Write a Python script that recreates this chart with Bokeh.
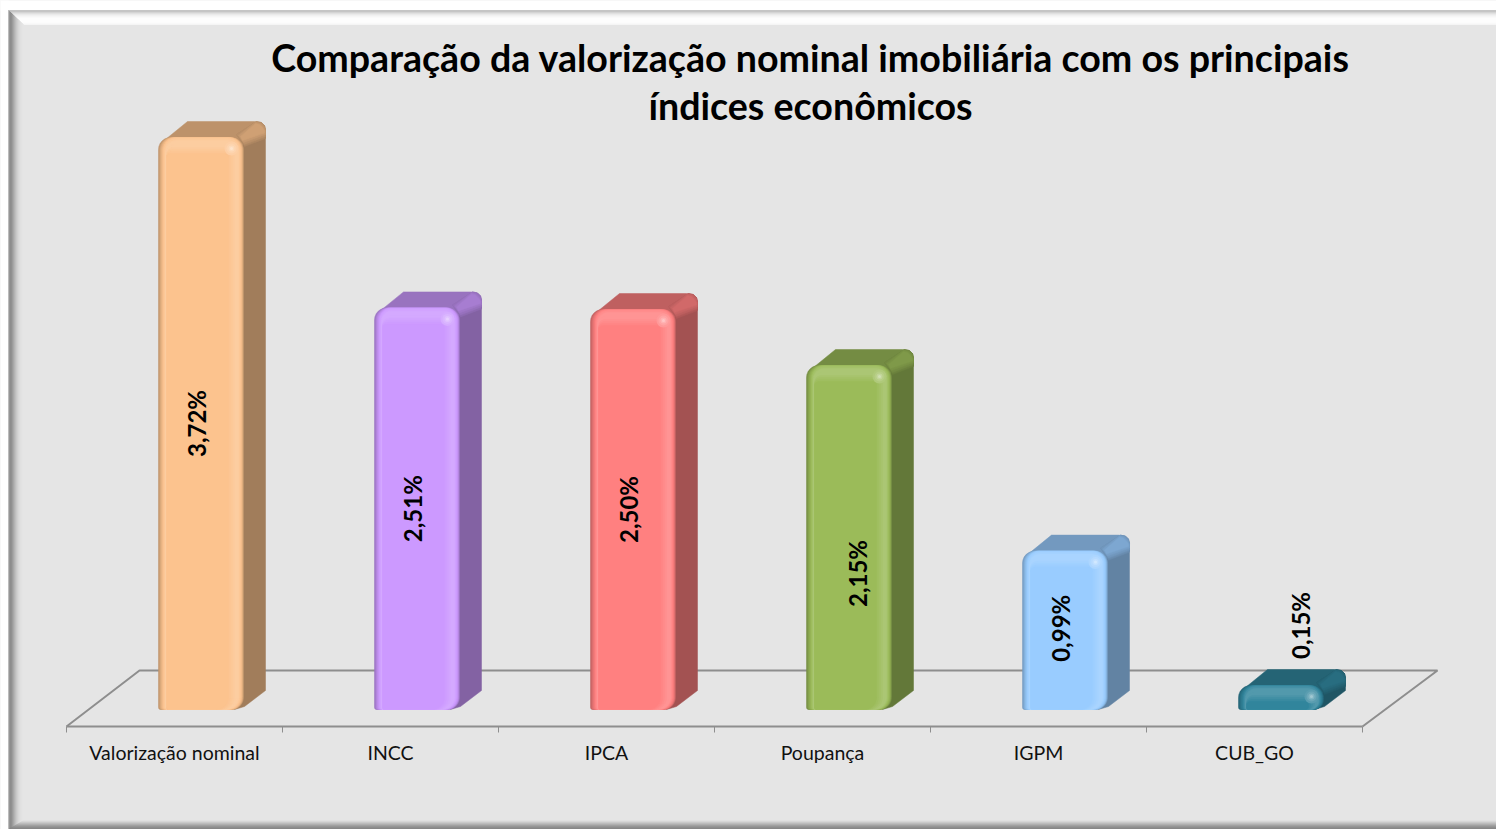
import numpy as np
from bokeh.plotting import figure
from bokeh.core.properties import value
from bokeh.embed import file_html
from bokeh.resources import INLINE
from bokeh.models import FixedTicker, Range1d, LinearAxis

# ---- data -------------------------------------------------------------
categories = ["Valorização nominal", "INCC", "IPCA", "Poupança", "IGPM", "CUB_GO"]
values = [3.72, 2.51, 2.50, 2.15, 0.99, 0.15]
title_lines = ["Comparação da valorização nominal imobiliária com os principais",
               "índices econômicos"]
axis_max = 3.575   # the value axis stops here, the tallest bar is cut off by it

# ---- styles -----------------------------------------------------------
bar_colors = ["#FCC38E", "#CC99FF", "#FF8080", "#9BBB59", "#99CCFF", "#31859C"]
FONT = "Lato"
PANEL = "#E5E5E5"
AXIS_GRAY = "#8E8E8E"
W, H = 1496, 829             # canvas size
AX0, BASE = 66.0, 709.0      # canvas pixel of the axis start and of the bar feet
XU, YU = 216.0, 160.0        # pixels per category, pixels per value unit
FLOOR = 17.0                 # bar foot above the axis line
x_off, front_w = 92.0, 85.0  # bar front inside a category


def rgb(h):
    return np.array([int(h[i:i + 2], 16) for i in (1, 3, 5)], float)


def hexs(a):
    return "#%02X%02X%02X" % tuple(np.clip(np.round(a), 0, 255).astype(int))


def shade(h, f):
    return hexs(rgb(h) * f)


def tint(h, t):
    return hexs(rgb(h) * (1 - t) + 255 * t)


def corner(cx, cy, r, a0, a1, n=7):
    t = np.radians(np.linspace(a0, a1, n))
    return list(cx + r * np.cos(t)), list(cy + r * np.sin(t))


def rounded(x0, x1, y1, rt, rb):
    rt = max(min(rt, (x1 - x0) / 2, y1 * 0.6), 0)
    rb = max(min(rb, y1 * 0.4), 0)
    xs, ys = [], []
    for cx, cy, r, a0, a1 in [
        (x0 + 2, 2, 2, 180, 270),
        (x1 - rb, rb, rb, 270, 360),
        (x1 - rt, y1 - rt, rt, 0, 90),
        (x0 + rt, y1 - rt, rt, 90, 180),
    ]:
        a, b = corner(cx, cy, r, a0, a1)
        xs += a
        ys += b
    return xs, ys


p = figure(width=W, height=H, output_backend="svg", toolbar_location=None,
           x_range=Range1d(-AX0 / XU, (W - AX0) / XU),
           y_range=Range1d((BASE - H) / YU, BASE / YU),
           x_axis_type=None, y_axis_type=None,
           min_border=0, background_fill_color=PANEL, border_fill_color=PANEL,
           outline_line_color=None)
p.grid.visible = False


def cx(xs):
    return [(x - AX0) / XU for x in xs]


def cy(ys):
    return [(BASE - y) / YU for y in ys]


def poly(xs, ys, color):
    p.patch(cx(xs), cy(ys), fill_color=color, line_color=color, line_width=0.5)


# ---- bevelled chart frame ----------------------------------------------
X0, T0 = 8, 10
poly([0, W, W, 0], [0, 0, T0, T0], "#FFFFFF")
poly([0, X0, X0, 0], [0, 0, H, H], "#FFFFFF")
top_cols = ["#B4B4B4", "#C6C6C6", "#D6D6D6", "#E2E2E2", "#ECECEC", "#F3F3F3", "#F8F8F8",
            "#FCFCFC", "#FFFFFF", "#FFFFFF", "#FFFFFF", "#FFFFFF", "#FDFDFD", "#FAFAFA"]
for k, col in enumerate(top_cols):
    poly([X0 + k * 15 / 14, W, W, X0 + (k + 1) * 15 / 14], [T0 + k, T0 + k, T0 + k + 1, T0 + k + 1], col)
left_cols = ["#A8A8A8", "#8A8A8A", "#858585", "#8C8C8C", "#989898", "#A6A6A6", "#B2B2B2", "#BEBEBE",
             "#C8C8C8", "#D0D0D0", "#D8D8D8", "#DDDDDD", "#E0E0E0", "#E3E3E3", "#E5E5E5"]
bot_cols = ["#DEDEDE", "#D2D2D2", "#C4C4C4", "#B6B6B6", "#A8A8A8", "#9A9A9A", "#8E8E8E", "#858585", "#808080"]
bm = len(bot_cols)
for k, col in enumerate(left_cols):
    poly([X0 + k, X0 + k + 1, X0 + k + 1, X0 + k],
         [T0 + k * 14 / 15, T0 + (k + 1) * 14 / 15, H - (k + 1) * bm / 15, H - k * bm / 15], col)
for k, col in enumerate(bot_cols):
    r = bm - k
    poly([X0 + (r - 1) * 15 / bm, W, W, X0 + r * 15 / bm], [H - r + 1, H - r + 1, H - r, H - r], col)

# ---- floor ------------------------------------------------------------
n = len(categories)
p.line([0, 73 / XU, n + 75 / XU, n], [-FLOOR / YU, 39 / YU, 39 / YU, -FLOOR / YU],
       line_color=AXIS_GRAY, line_width=2)

# ---- axis -------------------------------------------------------------
ax = LinearAxis(fixed_location=-FLOOR / YU)
ax.ticker = FixedTicker(ticks=[i + 0.5 for i in range(n)], minor_ticks=list(range(n + 1)))
ax.major_label_overrides = {i + 0.5: c for i, c in enumerate(categories)}
ax.bounds = (0, n)
ax.axis_line_color = AXIS_GRAY
ax.axis_line_width = 2
ax.major_tick_line_color = None
ax.major_tick_in = 0
ax.major_tick_out = 0
ax.minor_tick_line_color = AXIS_GRAY
ax.minor_tick_line_width = 1
ax.minor_tick_in = 0
ax.minor_tick_out = 6
ax.major_label_standoff = 8
ax.major_label_text_font = FONT
ax.major_label_text_font_size = "19.5px"
ax.major_label_text_color = "#111111"
p.add_layout(ax, "below")


# ---- bars -------------------------------------------------------------
def put(i, xs, ys, color):
    X = [i + (x_off + x) / XU for x in xs]
    Y = [y / YU for y in ys]
    p.patch(X, Y, fill_color=color, line_color=color, line_width=0.5)


layers = [
    (0, 0, 0, lambda c: shade(c, 0.76)),
    (1, 0.5, 0, lambda c: shade(c, 0.82)),
    (2, 1, 0, lambda c: shade(c, 0.88)),
    (3, 1.5, 0, lambda c: shade(c, 0.93)),
    (4, 2, 0, lambda c: shade(c, 0.97)),
    (5, 3, 0, lambda c: tint(c, 0.04)),
    (6, 4, 1, lambda c: tint(c, 0.10)),
    (7, 5, 3, lambda c: tint(c, 0.16)),
    (7, 7, 7, lambda c: tint(c, 0.16)),
    (8, 9, 10, lambda c: tint(c, 0.12)),
    (8, 11, 12, lambda c: tint(c, 0.08)),
    (8, 13, 14, lambda c: tint(c, 0.04)),
    (8, 15, 16, lambda c: c),
]

for i, (v, c) in enumerate(zip(values, bar_colors)):
    h = min(v, axis_max) * YU
    # top face
    put(i, [2, 29, 96, 102, 106, 107, 107, 85, 4],
        [h - 6, h + 16, h + 16, h + 15, h + 12, h + 8, h, h - 12, h - 12], shade(c, 0.75))
    # side face
    put(i, [76, 84, 107, 107, 86, 76], [h - 8, h - 8, h + 6, 19, 3, 0], shade(c, 0.64))
    # soft ridge between top and side
    put(i, [78, 98, 103, 106, 107, 107, 86],
        [h + 3, h + 16, h + 15, h + 12, h + 8, h - 1, h - 9], shade(c, 0.69))
    put(i, [78, 98, 103, 106, 107, 107, 86],
        [h + 3, h + 16, h + 15, h + 12, h + 8, h + 1, h - 7], shade(c, 0.74))
    put(i, [80, 97, 102, 105, 107, 107, 85],
        [h + 2, h + 15.5, h + 14, h + 11, h + 7, h + 3, h - 5], shade(c, 0.78))
    put(i, [82, 97, 101, 104, 106, 106, 84],
        [h + 1, h + 14, h + 13, h + 10, h + 7, h + 4.5, h - 3], shade(c, 0.82))
    # front face, nested rounded shapes
    for li, ri, ti, fn in layers:
        put(i, *rounded(li, front_w - ri, h - ti, 12 - ti * 0.5, 12), fn(c))
    # specular spot
    sx, sy = i + (x_off + 73) / XU, (h - 11) / YU
    for size, t in [(14, 0.20), (10, 0.28), (6, 0.40), (3, 0.55)]:
        p.scatter([sx], [sy], size=size, marker="circle", fill_color=tint(c, t), line_color=None)

# ---- value labels -----------------------------------------------------
label_dx = [-5, -5, -5, 8, -5, 19]
label_dy = [0, 0, 0, -36, 2, 72]
labels = [f"{v:.2f}%".replace(".", ",") for v in values]
lx = [i + (x_off + front_w / 2 + d) / XU for i, d in enumerate(label_dx)]
ly = [(min(v, axis_max) * YU / 2 + d) / YU for v, d in zip(values, label_dy)]
p.text(lx, ly, text=labels, angle=np.pi / 2, text_align="center", text_baseline="middle",
       text_font=value(FONT), text_font_style="bold", text_font_size="24px", text_color="#000000")

# ---- title ------------------------------------------------------------
p.text(cx([810, 810]), cy([57, 105]), text=title_lines, text_align="center", text_baseline="middle",
       text_font=value(FONT), text_font_style="bold", text_font_size="37.6px", text_color="#000000")

open("out.html", "w").write(file_html(p, INLINE))
